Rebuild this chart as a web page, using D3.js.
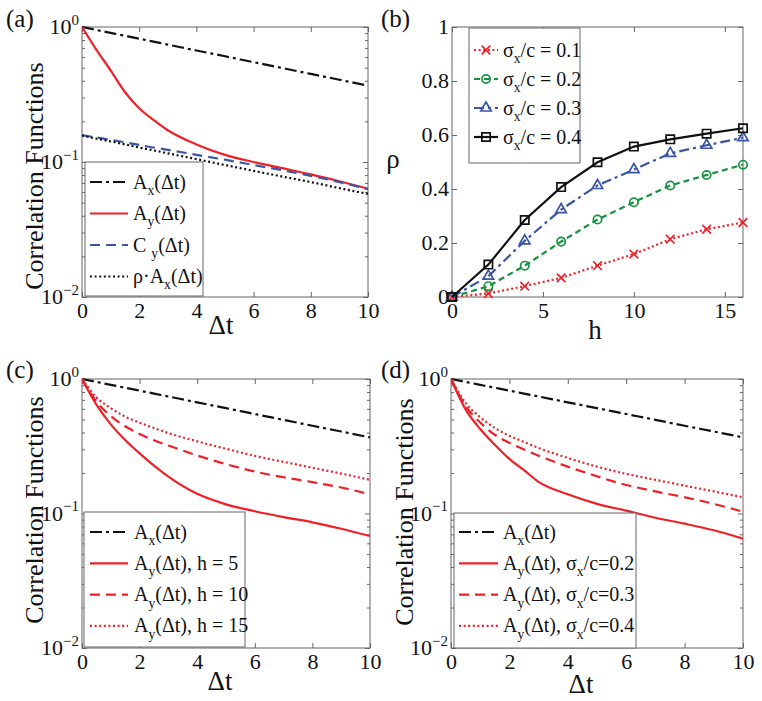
<!DOCTYPE html>
<html><head><meta charset="utf-8">
<script src="https://cdn.jsdelivr.net/npm/d3@7"></script>
<style>
body{margin:0;background:#fff}
svg{display:block}
text{font-family:"Liberation Serif","Times New Roman",serif;fill:#111}
</style>
</head><body>
<svg id="chart" width="762" height="701"></svg>
<script>
// ---------- DATA ----------
const dt = [0,0.5,1,1.5,2,2.5,3,4,5,6,7,8,9,10];
const axVals  = [1,0.951,0.905,0.861,0.819,0.779,0.741,0.670,0.607,0.549,0.497,0.449,0.407,0.368];
const ayA     = [1,0.68,0.478,0.33,0.25,0.205,0.172,0.135,0.113,0.1,0.09,0.081,0.072,0.0635];
const cyA     = [0.158,0.152,0.146,0.140,0.134,0.128,0.123,0.113,0.104,0.095,0.087,0.079,0.071,0.063];
const rhoAxA  = [0.157,0.149,0.142,0.135,0.128,0.122,0.116,0.105,0.095,0.086,0.078,0.071,0.064,0.058];
const ayH5    = [1,0.644,0.46,0.352,0.28,0.227,0.188,0.14,0.117,0.104,0.094,0.086,0.077,0.068];
const ayH10   = [1,0.682,0.53,0.445,0.39,0.35,0.32,0.27,0.233,0.205,0.186,0.171,0.156,0.139];
const ayH15   = [1,0.73,0.607,0.525,0.473,0.432,0.396,0.344,0.303,0.268,0.242,0.219,0.198,0.178];
const aySig02 = [1,0.595,0.425,0.325,0.255,0.21,0.172,0.139,0.118,0.105,0.093,0.084,0.075,0.065];
const aySig03 = [1,0.63,0.475,0.385,0.335,0.299,0.269,0.223,0.189,0.163,0.146,0.132,0.118,0.103];
const aySig04 = [1,0.665,0.52,0.432,0.378,0.34,0.307,0.259,0.223,0.197,0.178,0.161,0.146,0.132];

const hVals = [0,2,4,6,8,10,12,14,16];
const rho01 = [0,0.013,0.040,0.071,0.116,0.159,0.214,0.251,0.276];
const rho02 = [0,0.040,0.116,0.205,0.287,0.351,0.413,0.452,0.490];
const rho03 = [0,0.077,0.208,0.324,0.413,0.472,0.532,0.562,0.590];
const rho04 = [0,0.120,0.285,0.407,0.499,0.557,0.584,0.605,0.625];

const dtTicks = [0,2,4,6,8,10];
const logTicks = [0.01,0.1,1];
const logTickExp = ["\u22122","\u22121","0"];
const hTicks = [0,5,10,15];
const rhoTicks = [0,0.2,0.4,0.6,0.8,1];
const rhoTickLabels = ["0","0.2","0.4","0.6","0.8","1"];

// ---------- STYLE ----------
const RED = "#ee2128", BLUE = "#3a56a6", GREEN = "#14923f", BLACK = "#111";
const FRAME = "#666";
const LW = 2.2;
const DASHDOT = "12,4,3,4", DASH = "10,6", DOT = "2,2.6", DASHDOT2 = "10,4,3,4", DASH2 = "6,4";

const svg = d3.select("#chart");

function rich(textSel, segs, size) {
  let shift = 0;
  segs.forEach(s => {
    const target = s.sub ? size*0.32 : (s.sup ? -size*0.42 : 0);
    const fs = (s.sub || s.sup) ? size*0.68 : (s.size ? s.size : size);
    textSel.append("tspan").attr("dy", target - shift).attr("font-size", fs).text(s.t);
    shift = target;
  });
  return textSel;
}

function styleAxis(g) {
  g.select(".domain").remove();
  g.selectAll(".tick line").attr("stroke", FRAME).attr("stroke-width", 1);
  g.selectAll("text").attr("font-size", 22).attr("fill", "#111")
    .attr("font-family", '"Liberation Serif","Times New Roman",serif');
}

function frame(P, x, y, xt, yt, minor, xfmt, yLabels) {
  const g = svg.append("g");
  g.append("g").attr("transform", `translate(0,${P.b})`)
    .call(d3.axisBottom(x).tickValues(xt).tickSize(-5).tickSizeOuter(0).tickPadding(5).tickFormat(xfmt)).call(styleAxis);
  g.append("g").attr("transform", `translate(0,${P.t})`)
    .call(d3.axisTop(x).tickValues(xt).tickSize(-5).tickSizeOuter(0).tickFormat("")).call(styleAxis);
  g.append("g").attr("transform", `translate(${P.l},0)`)
    .call(d3.axisLeft(y).tickValues(yt).tickSize(-5).tickSizeOuter(0).tickPadding(3).tickFormat("")).call(styleAxis);
  g.append("g").attr("transform", `translate(${P.r},0)`)
    .call(d3.axisRight(y).tickValues(yt).tickSize(-5).tickSizeOuter(0).tickFormat("")).call(styleAxis);
  if (minor) {
    g.append("g").attr("transform", `translate(${P.l},0)`)
      .call(d3.axisLeft(y).tickValues(minor).tickSize(-3).tickSizeOuter(0).tickFormat("")).call(styleAxis);
    g.append("g").attr("transform", `translate(${P.r},0)`)
      .call(d3.axisRight(y).tickValues(minor).tickSize(-3).tickSizeOuter(0).tickFormat("")).call(styleAxis);
  }
  yt.forEach((v, i) => {
    const t = g.append("text").attr("x", P.l - 3).attr("y", y(v) + 7).attr("text-anchor", "end");
    yLabels(t, i);
  });
  g.append("rect").attr("x", P.l).attr("y", P.t).attr("width", P.r - P.l).attr("height", P.b - P.t)
    .attr("fill", "none").attr("stroke", FRAME).attr("stroke-width", 1);
  return g;
}

function logLabel(t, i) {
  rich(t, [{t:"10"},{t:logTickExp[i], sup:true}], 22);
}

const minorLog = [];
[0.01,0.1].forEach(d => { for (let k = 2; k <= 9; k++) minorLog.push(d*k); });

function legend(box, rows) {
  const g = svg.append("g");
  g.append("rect").attr("x", box.x).attr("y", box.y).attr("width", box.w).attr("height", box.h)
    .attr("fill", "#fff").attr("stroke", FRAME).attr("stroke-width", 1);
  rows.forEach((r, i) => {
    const yy = box.y0 + i*box.dy;
    g.append("line").attr("x1", box.lx1).attr("x2", box.lx2).attr("y1", yy).attr("y2", yy)
      .attr("stroke", r.color).attr("stroke-width", LW).attr("stroke-dasharray", r.dash || null);
    if (r.marker) drawMarker(g, r.marker, (box.lx1 + box.lx2)/2, yy, r.color);
    const t = g.append("text").attr("x", box.tx).attr("y", yy + 6.5);
    rich(t, r.segs, box.fs);
  });
}

function drawMarker(g, m, cx, cy, color) {
  const types = {x: [d3.symbolTimes, 50], o: [d3.symbolCircle, 55], tri: [d3.symbolTriangle2, 78], sq: [d3.symbolSquare2, 88]};
  const [type, size] = types[m];
  g.append("path").attr("d", d3.symbol(type, size)()).attr("transform", `translate(${cx},${cy})`)
    .attr("fill", "none").attr("stroke", color).attr("stroke-width", 1.7);
}

let clipId = 0;
function clip(P) {
  const id = "clip" + (clipId++);
  svg.append("clipPath").attr("id", id).append("rect")
    .attr("x", P.l).attr("y", P.t - 1).attr("width", P.r - P.l).attr("height", P.b - P.t + 2);
  return "url(#" + id + ")";
}

function panelLabel(x, y, s) {
  svg.append("text").attr("x", x).attr("y", y).attr("font-size", 25).text(s);
}
function yLabelRot(x, y, s) {
  svg.append("text").attr("transform", `translate(${x},${y}) rotate(-90)`).attr("text-anchor", "middle")
    .attr("font-size", 26).text(s);
}
function xLabel(x, y, s) {
  svg.append("text").attr("x", x).attr("y", y).attr("text-anchor", "middle").attr("font-size", 27).text(s);
}

// ---------- LOG PANELS ----------
function logPanel(P, series, leg, lab) {
  const x = d3.scaleLinear().domain([0,10]).range([P.l, P.r]);
  const y = d3.scaleLog().domain([0.01,1]).range([P.b, P.t]);
  frame(P, x, y, dtTicks, logTicks, minorLog, d3.format("d"), logLabel);
  const cp = clip(P);
  const line = d3.line().x((d,i) => x(dt[i])).y(d => y(d)).curve(d3.curveMonotoneX);
  const g = svg.append("g").attr("clip-path", cp);
  series.forEach(s => {
    g.append("path").attr("d", line(s.vals)).attr("fill", "none").attr("stroke", s.color)
      .attr("stroke-width", LW).attr("stroke-dasharray", s.dash || null);
  });
  legend(leg, series);
  panelLabel(lab.px, lab.py, lab.text);
  yLabelRot(lab.yx, lab.yy, "Correlation Functions");
  xLabel(lab.xx, lab.xy, "\u0394t");
}

const Ax = [{t:"A"},{t:"x",sub:true},{t:"(\u0394t)"}];
const Ay = [{t:"A"},{t:"y",sub:true},{t:"(\u0394t)"}];

// (a)
logPanel({l:82, r:368, t:27, b:297}, [
  {vals: axVals, color: BLACK, dash: DASHDOT, segs: Ax},
  {vals: ayA, color: RED, segs: Ay},
  {vals: cyA, color: BLUE, dash: DASH, segs: [{t:"C "},{t:"y",sub:true},{t:"(\u0394t)"}]},
  {vals: rhoAxA, color: BLACK, dash: DOT, segs: [{t:"\u03C1\u00B7A"},{t:"x",sub:true},{t:"(\u0394t)"}]}
], {x:85, y:162, w:118, h:134, y0:182, dy:31.5, lx1:90, lx2:128, tx:133, fs:20},
   {px:6, py:27, text:"(a)", yx:43, yy:176, xx:221, xy:334});

// (c)
logPanel({l:82, r:370, t:379, b:648}, [
  {vals: axVals, color: BLACK, dash: DASHDOT, segs: Ax},
  {vals: ayH5, color: RED, segs: Ay.concat([{t:", h = 5"}])},
  {vals: ayH10, color: RED, dash: DASH, segs: Ay.concat([{t:", h = 10"}])},
  {vals: ayH15, color: RED, dash: DOT, segs: Ay.concat([{t:", h = 15"}])}
], {x:84, y:512, w:161, h:135, y0:532, dy:31.3, lx1:90, lx2:128, tx:134, fs:20},
   {px:6, py:378, text:"(c)", yx:43, yy:510, xx:220, xy:690});

// (d)
const sig = v => [{t:", \u03C3"},{t:"x",sub:true},{t:"/c=" + v}];
logPanel({l:451, r:743, t:379, b:648}, [
  {vals: axVals, color: BLACK, dash: DASHDOT, segs: Ax},
  {vals: aySig02, color: RED, segs: Ay.concat(sig("0.2"))},
  {vals: aySig03, color: RED, dash: DASH, segs: Ay.concat(sig("0.3"))},
  {vals: aySig04, color: RED, dash: DOT, segs: Ay.concat(sig("0.4"))}
], {x:454, y:513, w:182, h:135, y0:532, dy:31.3, lx1:459, lx2:498, tx:503, fs:20},
   {px:381, py:378, text:"(d)", yx:413, yy:512, xx:581, xy:693});

// ---------- (b) ----------
(function(){
  const P = {l:452, r:743, t:27, b:297};
  const x = d3.scaleLinear().domain([0,16]).range([P.l, P.r]);
  const y = d3.scaleLinear().domain([0,1]).range([P.b, P.t]);
  frame(P, x, y, hTicks, rhoTicks, null, d3.format("d"), (t, i) => t.attr("font-size", 22).text(rhoTickLabels[i]));
  const series = [
    {vals: rho01, color: RED, dash: DOT, marker: "x", segs: [{t:"\u03C3"},{t:"x",sub:true},{t:"/c = 0.1"}]},
    {vals: rho02, color: GREEN, dash: DASH2, marker: "o", segs: [{t:"\u03C3"},{t:"x",sub:true},{t:"/c = 0.2"}]},
    {vals: rho03, color: BLUE, dash: DASHDOT2, marker: "tri", segs: [{t:"\u03C3"},{t:"x",sub:true},{t:"/c = 0.3"}]},
    {vals: rho04, color: BLACK, dash: null, marker: "sq", segs: [{t:"\u03C3"},{t:"x",sub:true},{t:"/c = 0.4"}]}
  ];
  const line = d3.line().x((d,i) => x(hVals[i])).y(d => y(d));
  const g = svg.append("g");
  series.forEach(s => {
    g.append("path").attr("d", line(s.vals)).attr("fill", "none").attr("stroke", s.color)
      .attr("stroke-width", LW).attr("stroke-dasharray", s.dash || null);
    s.vals.forEach((v, i) => drawMarker(g, s.marker, x(hVals[i]), y(v), s.color));
  });
  legend({x:469, y:28, w:111, h:135, y0:50, dy:29, lx1:474, lx2:498, tx:503, fs:20}, series);
  panelLabel(381, 27, "(b)");
  svg.append("text").attr("x", 393).attr("y", 168).attr("text-anchor", "middle").attr("font-size", 27).text("\u03C1");
  xLabel(595, 339, "h");
})();
</script>
</body></html>
